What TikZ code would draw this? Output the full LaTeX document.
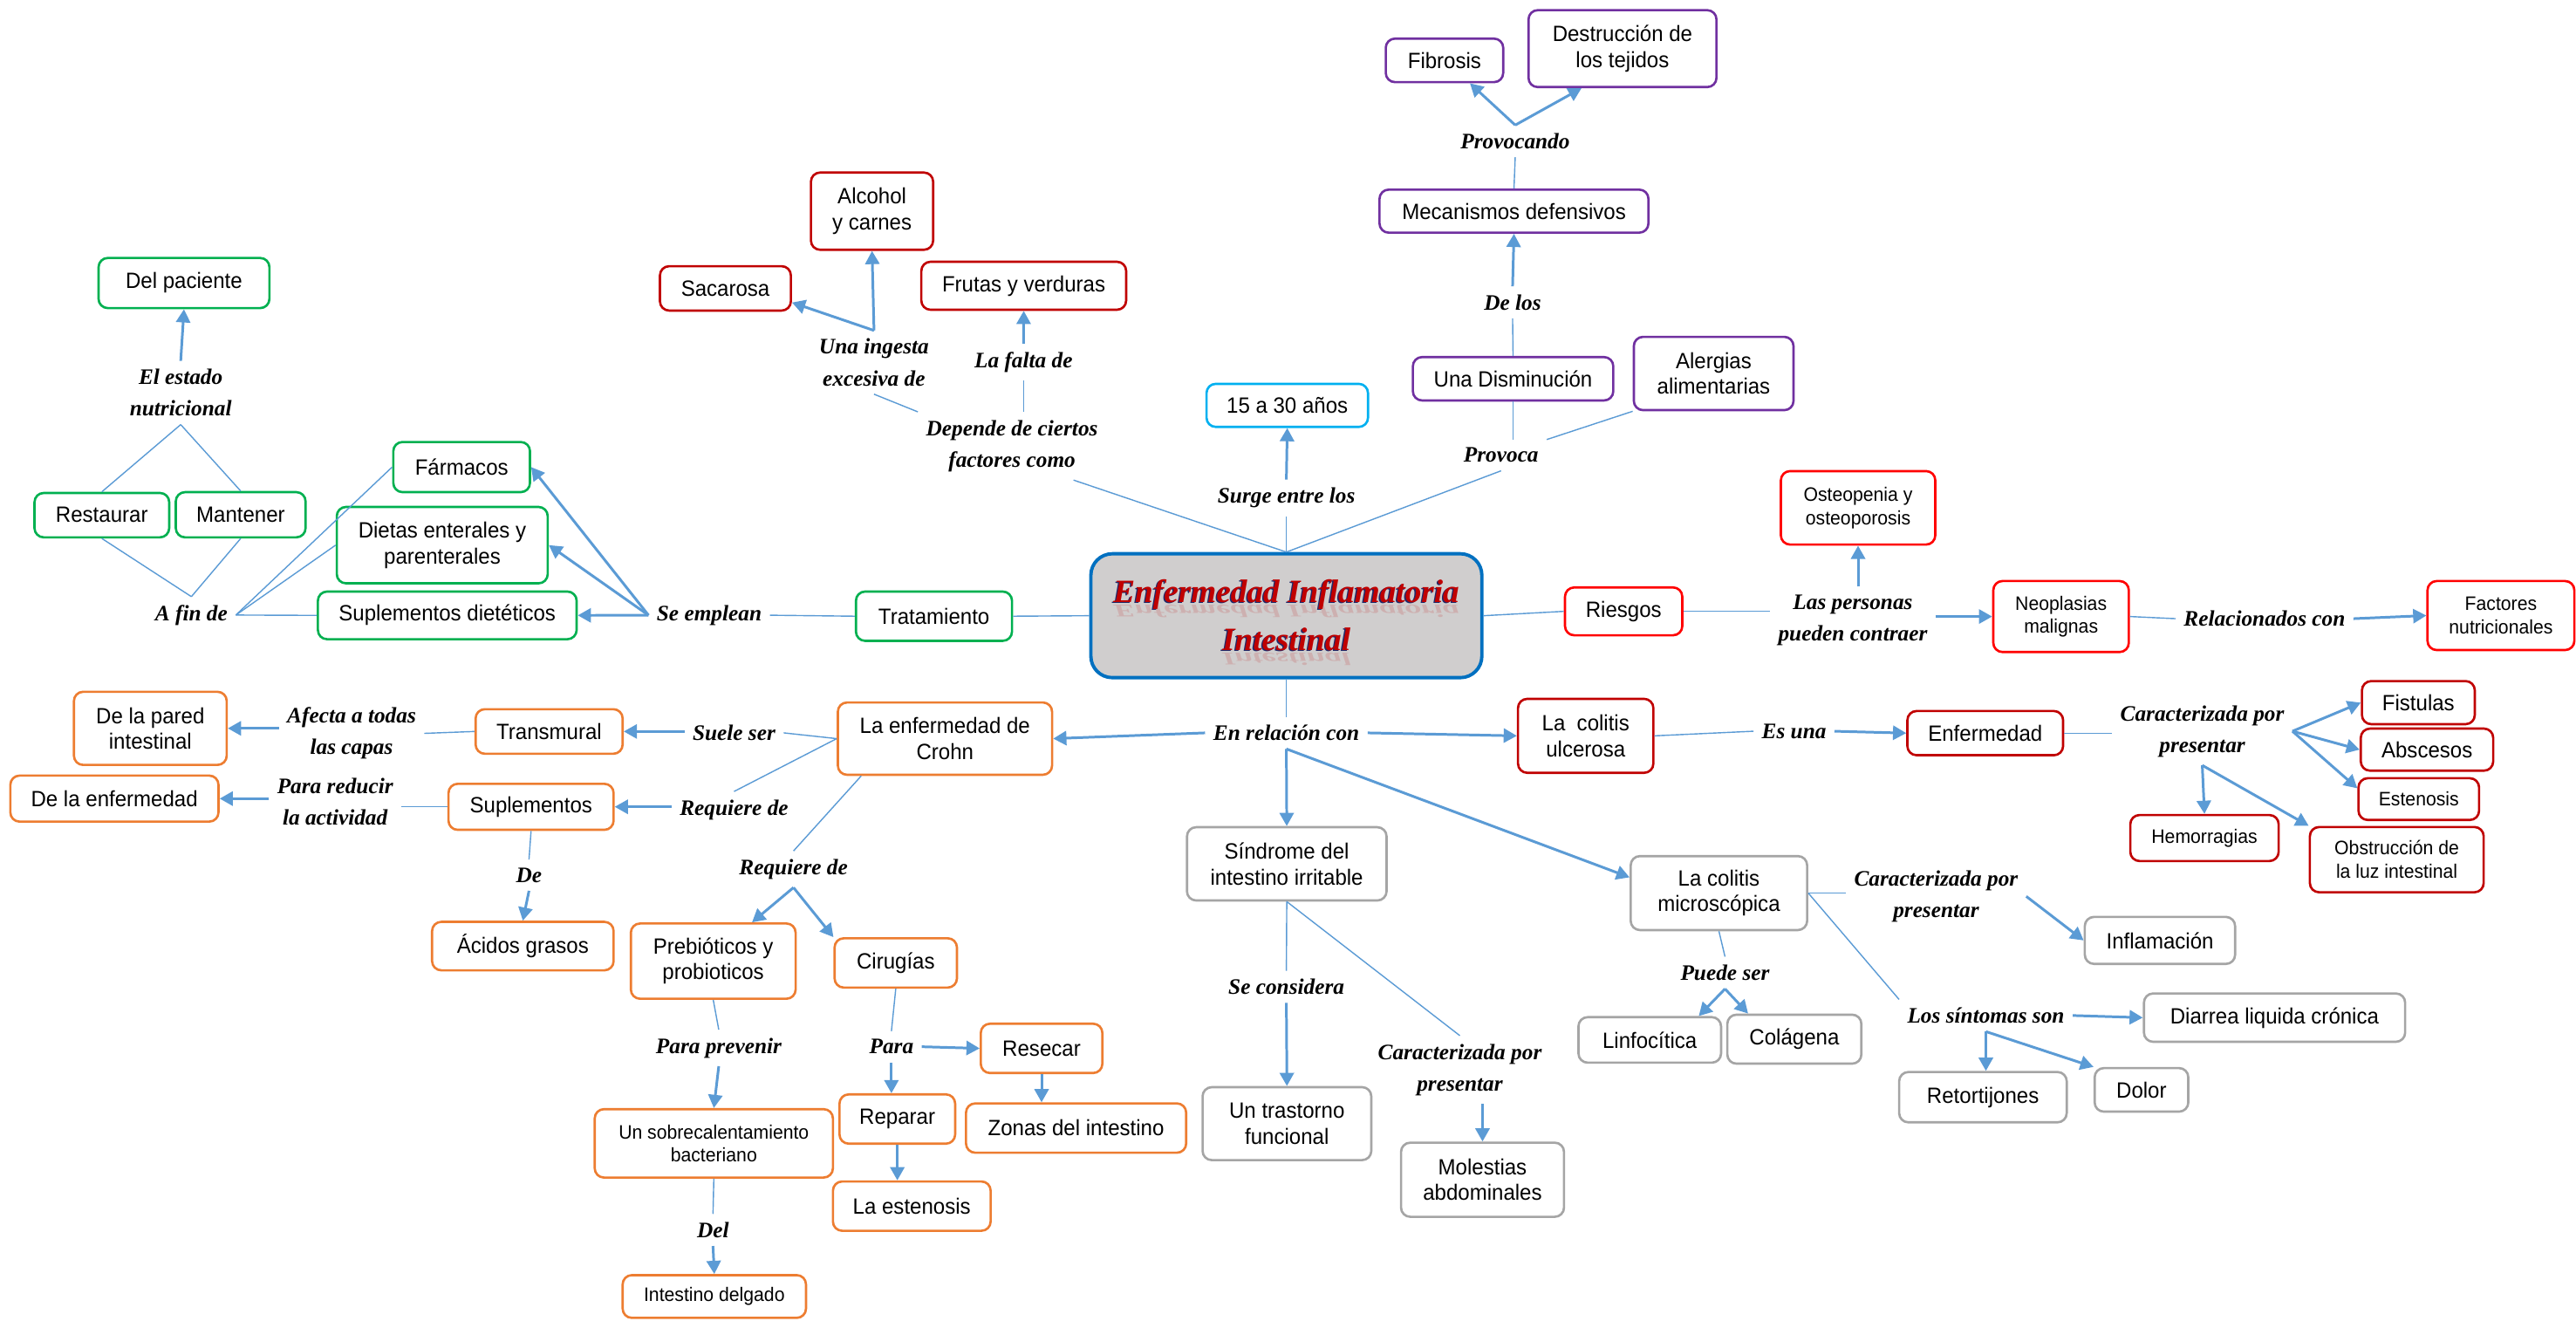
\documentclass[tikz,border=0pt]{standalone}
\usepackage{fontspec}
\setmainfont{Liberation Sans}[FakeStretch=0.95]
\newfontfamily\lblfont{Liberation Serif}
\usetikzlibrary{arrows.meta,calc}
\definecolor{cg}{HTML}{00B050}
\definecolor{co}{HTML}{ED7D31}
\definecolor{cp}{HTML}{7030A0}
\definecolor{cdr}{HTML}{C00000}
\definecolor{cbr}{HTML}{FF0000}
\definecolor{cc}{HTML}{00B0F0}
\definecolor{cgr}{HTML}{A5A5A5}
\definecolor{conn}{HTML}{5B9BD5}
\definecolor{cblue}{HTML}{0070C0}
\definecolor{cfill}{HTML}{D0CECE}
\definecolor{navyc}{HTML}{1F2A6B}
\newcommand\mybox[7]{\node[#6, minimum width={(#4-#2)*0.018833cm}, minimum height={(#5-#3)*0.018833cm}] (#1) at ({(#2+#4)/2},{(#3+#5)/2}) {#7};}
\newcommand\shad[1]{\rlap{\kern-0.45pt\raisebox{-0.45pt}{\color{navyc}#1}}{\color{cdr}#1}}
\tikzset{
  bx/.style={draw=#1, rounded corners=3pt, line width=0.75pt, inner sep=0pt, align=center, fill=white,
    font=\fontsize{7.2}{8.4}\selectfont},
  smallbx/.style={font=\fontsize{6.35}{7.6}\selectfont},
  lbl/.style={inner sep=2.5pt, align=center, font={\lblfont\bfseries\itshape\fontsize{7.2}{10.3}\selectfont}},
  ttl/.style={inner sep=0pt, font={\lblfont\bfseries\itshape\fontsize{10.6}{15.5}\selectfont}},
  ln/.style={draw=conn, line width=0.4pt},
  arr/.style={draw=conn, line width=0.85pt, -{Triangle[length=4.3pt,width=4.6pt]}}
}
\begin{document}
\begin{tikzpicture}[x=0.018833cm, y=-0.018833cm]
\fill[white] (0,0) rectangle (1568,803.4);
\useasboundingbox (0,0) rectangle (1568,803.4);

% ---------- central ----------
\node[draw=cblue, fill=cfill, line width=1.1pt, rounded corners=7pt, minimum width={238*0.018833cm}, minimum height={75.4*0.018833cm}] (cent) at (783,374.7) {};
\node[ttl, anchor=base, yscale=-0.55, transform shape, opacity=0.14] (r1) at (783,368.5) {\color{cdr}Enfermedad Inflamatoria};
\node[ttl, anchor=base, yscale=-0.55, transform shape, opacity=0.14] (r2) at (783,397.7) {\color{cdr}Intestinal};
\node[ttl, anchor=base] (t1) at (783,366.4) {\shad{Enfermedad Inflamatoria}};
\node[ttl, anchor=base] (t2) at (783,395.6) {\shad{Intestinal}};

% ---------- green ----------
\mybox{pac}{60}{157}{164}{187.5}{bx=cg}{Del paciente}
\mybox{rest}{21}{300}{103}{327}{bx=cg}{Restaurar}
\mybox{mant}{107}{299.5}{186}{327}{bx=cg}{Mantener}
\mybox{farm}{239.4}{269}{322.6}{299.5}{bx=cg}{Fármacos}
\mybox{diet}{205}{308.5}{333.4}{355}{bx=cg}{Dietas enterales y\\parenterales}
\mybox{supd}{193.5}{360}{351}{389}{bx=cg}{Suplementos dietéticos}
\mybox{trat}{521}{360}{616}{390}{bx=cg}{Tratamiento}

% ---------- orange ----------
\mybox{crohn}{510}{427.5}{640.4}{471.5}{bx=co}{La enfermedad de\\Crohn}
\mybox{trans}{289.5}{431.6}{379}{458.7}{bx=co}{Transmural}
\mybox{pared}{45}{421}{138}{465.5}{bx=co}{De la pared\\intestinal}
\mybox{supl}{273}{477}{373.5}{505}{bx=co}{Suplementos}
\mybox{denf}{6.3}{472}{133}{500}{bx=co}{De la enfermedad}
\mybox{acid}{263}{561}{373.5}{590.5}{bx=co}{Ácidos grasos}
\mybox{preb}{384}{562}{484.3}{607.8}{bx=co}{Prebióticos y\\probioticos}
\mybox{ciru}{508}{571}{582.5}{601}{bx=co}{Cirugías}
\mybox{sobre}{362}{675}{507}{716.6}{bx=co,smallbx}{Un sobrecalentamiento\\bacteriano}
\mybox{intd}{379}{776}{490.6}{802}{bx=co,smallbx}{Intestino delgado}
\mybox{rese}{597}{623}{671}{653}{bx=co}{Resecar}
\mybox{repa}{511}{666}{581.4}{696}{bx=co}{Reparar}
\mybox{este}{507}{719}{603}{749}{bx=co}{La estenosis}
\mybox{zona}{588}{671.5}{722}{701.5}{bx=co}{Zonas del intestino}

% ---------- purple ----------
\mybox{fib}{843.5}{23.5}{915}{50}{bx=cp}{Fibrosis}
\mybox{dest}{930.4}{6.2}{1044.8}{53}{bx=cp}{Destrucción de\\los tejidos}
\mybox{meca}{839.7}{115.4}{1003.4}{141.6}{bx=cp}{Mecanismos defensivos}
\mybox{dism}{860}{217.3}{982}{243.7}{bx=cp}{Una Disminución}
\mybox{aler}{994.5}{205}{1091.7}{249.6}{bx=cp}{Alergias\\alimentarias}

% ---------- dark red ----------
\mybox{alc}{493.6}{105}{568}{152}{bx=cdr}{Alcohol\\y carnes}
\mybox{sac}{401.7}{162}{481.4}{189}{bx=cdr}{Sacarosa}
\mybox{fru}{560.8}{159.3}{685.5}{188.5}{bx=cdr}{Frutas y verduras}
\mybox{ulc}{924}{425.3}{1006.4}{470.3}{bx=cdr}{La~~colitis\\ulcerosa}
\mybox{enf}{1161}{432.7}{1255.8}{459.6}{bx=cdr}{Enfermedad}
\mybox{fist}{1437.7}{414.5}{1506.4}{440.7}{bx=cdr}{Fistulas}
\mybox{absc}{1437}{443.4}{1517.6}{469}{bx=cdr}{Abscesos}
\mybox{esten}{1435.6}{473.6}{1509}{499}{bx=cdr,smallbx}{Estenosis}
\mybox{hemo}{1296.7}{496}{1387}{524}{bx=cdr,smallbx}{Hemorragias}
\mybox{obst}{1406}{503.3}{1511.8}{543}{bx=cdr,smallbx}{Obstrucción de\\la luz intestinal}

% ---------- bright red ----------
\mybox{ries}{952.6}{357.5}{1024}{386.6}{bx=cbr}{Riesgos}
\mybox{oste}{1084}{286.7}{1178}{331.4}{bx=cbr,smallbx}{Osteopenia y\\osteoporosis}
\mybox{neo}{1213.3}{353.6}{1295.8}{396.8}{bx=cbr,smallbx}{Neoplasias\\malignas}
\mybox{fact}{1477.6}{353.6}{1567}{395.6}{bx=cbr,smallbx}{Factores\\nutricionales}

% ---------- cyan ----------
\mybox{edad}{734.4}{233.6}{832.7}{259.8}{bx=cc}{15 a 30 años}

% ---------- gray ----------
\mybox{sind}{722.5}{503.4}{844}{548}{bx=cgr}{Síndrome del\\intestino irritable}
\mybox{tras}{732}{661.6}{834.7}{706}{bx=cgr}{Un trastorno\\funcional}
\mybox{mol}{852.8}{695.4}{952}{740.5}{bx=cgr}{Molestias\\abdominales}
\mybox{micro}{992.6}{521}{1100}{566}{bx=cgr}{La colitis\\microscópica}
\mybox{linf}{960.8}{619}{1047.6}{646.7}{bx=cgr}{Linfocítica}
\mybox{cola}{1051.4}{617.5}{1133}{647.3}{bx=cgr}{Colágena}
\mybox{infl}{1269}{558}{1360.5}{586.6}{bx=cgr}{Inflamación}
\mybox{diar}{1305}{604.6}{1464}{634}{bx=cgr}{Diarrea liquida crónica}
\mybox{reto}{1156}{652.4}{1258}{683}{bx=cgr}{Retortijones}
\mybox{dolor}{1275}{650}{1332}{676.5}{bx=cgr}{Dolor}

% ---------- labels ----------
\node[lbl] (l_estado) at (110,239) {El estado\\nutricional};
\node[lbl] (l_afin) at (116.5,374.3) {A fin de};
\node[lbl] (l_empl) at (431.7,374.4) {Se emplean};
\node[lbl] (l_ingesta) at (532,220.5) {Una ingesta\\excesiva de};
\node[lbl] (l_falta) at (623,220.4) {La falta de};
\node[lbl] (l_dep) at (616,271.4) {Depende de ciertos\\factores como};
\node[lbl] (l_surge) at (783,303) {Surge entre los};
\node[lbl] (l_provocando) at (922.3,85.9) {Provocando};
\node[lbl] (l_delos) at (920.7,184) {De los};
\node[lbl] (l_provoca) at (913.7,277) {Provoca};
\node[lbl] (l_pers) at (1127.8,377.5) {Las personas\\pueden contraer};
\node[lbl] (l_relac) at (1378.4,376.5) {Relacionados con};
\node[lbl] (l_rel) at (783,446) {En relación con};
\node[lbl] (l_esuna) at (1092,445) {Es una};
\node[lbl] (l_car1) at (1340.5,445) {Caracterizada por\\presentar};
\node[lbl] (l_suele) at (446.8,446) {Suele ser};
\node[lbl] (l_req1) at (446.8,492.8) {Requiere de};
\node[lbl] (l_afecta) at (214,446.3) {Afecta a todas\\las capas};
\node[lbl] (l_reduc) at (204,488) {Para reducir\\la actividad};
\node[lbl] (l_de) at (322,532.6) {De};
\node[lbl] (l_req2) at (483,529) {Requiere de};
\node[lbl] (l_prev) at (437.5,637.7) {Para prevenir};
\node[lbl] (l_para) at (542.6,637) {Para};
\node[lbl] (l_del) at (434,748.5) {Del};
\node[lbl] (l_secons) at (783,600.5) {Se considera};
\node[lbl] (l_car2) at (888.6,651) {Caracterizada por\\presentar};
\node[lbl] (l_puede) at (1050,592) {Puede ser};
\node[lbl] (l_car3) at (1178.5,545.5) {Caracterizada por\\presentar};
\node[lbl] (l_sint) at (1208.8,618) {Los síntomas son};

% ---------- connectors: left ----------
\draw[arr] (l_estado.north) -- (pac.south);
\draw[ln] (l_estado.south) -- (rest.north);
\draw[ln] (l_estado.south) -- (mant.north);
\draw[ln] (rest.south) -- (l_afin.north);
\draw[ln] (mant.south) -- (l_afin.north);
\draw[ln] (l_afin.east) -- (farm.west);
\draw[ln] (l_afin.east) -- (diet.west);
\draw[ln] (l_afin.east) -- (supd.west);
\draw[arr] (l_empl.west) -- (farm.east);
\draw[arr] (l_empl.west) -- (diet.east);
\draw[arr] (l_empl.west) -- (supd.east);
\draw[ln] (l_empl.east) -- (trat.west);
\draw[ln] (trat.east) -- (cent.west);

% ---------- connectors: top ----------
\draw[ln] (cent.north) -- (l_surge.south);
\draw[arr] (l_surge.north) -- (edad.south);
\draw[ln] (cent.north) -- (l_dep.-29);
\draw[ln] (l_dep.north west) -- (l_ingesta.south);
\draw[ln] (l_falta.south |- l_dep.north) -- (l_falta.south);
\draw[arr] (l_falta.north) -- (fru.south);
\draw[arr] (l_ingesta.north) -- (alc.south);
\draw[arr] (l_ingesta.north) -- (sac.-12);
\draw[ln] (cent.north) -- (l_provoca.south);
\draw[ln] (dism.south |- l_provoca.north) -- (dism.south);
\draw[ln] (l_provoca.north east) -- (aler.south west);
\draw[ln] (dism.north) -- (l_delos.south);
\draw[arr] (l_delos.north) -- (meca.south);
\draw[ln] (meca.north) -- (l_provocando.south);
\draw[arr] (l_provocando.north) -- (fib.-42);
\draw[arr] (l_provocando.north) -- (dest.224);

% ---------- connectors: right ----------
\draw[ln] (cent.east) -- (ries.west);
\draw[ln] (ries.east) -- (ries.east -| l_pers.west);
\draw[arr] (oste.south |- l_pers.north) -- (oste.south);
\draw[arr] (l_pers.east |- neo.west) -- (neo.west);
\draw[ln] (neo.east) -- (l_relac.west);
\draw[arr] (l_relac.east) -- (fact.west);

% ---------- connectors: en relacion ----------
\draw[ln] (cent.south) -- (l_rel.north);
\draw[arr] (l_rel.west) -- (crohn.east);
\draw[arr] (l_rel.east) -- (ulc.west);
\draw[arr] (l_rel.south) -- (sind.north);
\draw[arr] (l_rel.south) -- (micro.170);

% ---------- connectors: Crohn ----------
\draw[ln] (crohn.west) -- (l_suele.east);
\draw[arr] (l_suele.west |- trans.east) -- (trans.east);
\draw[ln] (crohn.west) -- (l_req1.north);
\draw[arr] (l_req1.west |- supl.east) -- (supl.east);
\draw[ln] (crohn.204) -- (l_req2.north);
\draw[arr] (l_req2.south) -- (preb.45);
\draw[arr] (l_req2.south) -- (ciru.north west);
\draw[ln] (trans.west) -- (l_afecta.east);
\draw[arr] (l_afecta.west |- pared.east) -- (pared.east);
\draw[ln] (supl.west) -- (supl.west -| l_reduc.east);
\draw[arr] (l_reduc.west |- denf.east) -- (denf.east);
\draw[ln] (supl.south) -- (l_de.north);
\draw[arr] (l_de.south) -- (acid.north);
\draw[ln] (preb.south) -- (l_prev.north);
\draw[arr] (l_prev.south) -- (sobre.north);
\draw[ln] (sobre.south) -- (l_del.north);
\draw[arr] (l_del.south) -- (intd.north);
\draw[ln] (ciru.south) -- (l_para.north);
\draw[arr] (l_para.east) -- (rese.west);
\draw[arr] (l_para.south) -- (l_para.south |- repa.north);
\draw[arr] (repa.south) -- (repa.south |- este.north);
\draw[arr] (rese.south) -- (rese.south |- zona.north);

% ---------- connectors: sindrome ----------
\draw[ln] (sind.south) -- (l_secons.north);
\draw[arr] (l_secons.south) -- (tras.north);
\draw[ln] (sind.south) -- (l_car2.north);
\draw[arr] (mol.north |- l_car2.south) -- (mol.north);

% ---------- connectors: microscopica ----------
\draw[ln] (micro.south) -- (l_puede.north);
\draw[arr] (l_puede.south) -- (linf.26);
\draw[arr] (l_puede.south) -- (cola.151);
\draw[ln] (micro.east) -- (micro.east -| l_car3.west);
\draw[arr] (l_car3.east) -- (infl.west);
\draw[ln] (micro.east) -- (l_sint.north west);
\draw[arr] (l_sint.east) -- (diar.west);
\draw[arr] (l_sint.south) -- (l_sint.south |- reto.north);
\draw[arr] (l_sint.south) -- (dolor.north west);

% ---------- connectors: ulcerosa ----------
\draw[ln] (ulc.east) -- (l_esuna.west);
\draw[arr] (l_esuna.east) -- (enf.west);
\draw[ln] (enf.east) -- (enf.east -| l_car1.west);
\draw[arr] (l_car1.east) -- (fist.west);
\draw[arr] (l_car1.east) -- (absc.west);
\draw[arr] (l_car1.east) -- (esten.170);
\draw[arr] (l_car1.south) -- (hemo.north);
\draw[arr] (l_car1.south) -- (obst.north west);
\end{tikzpicture}
\end{document}
